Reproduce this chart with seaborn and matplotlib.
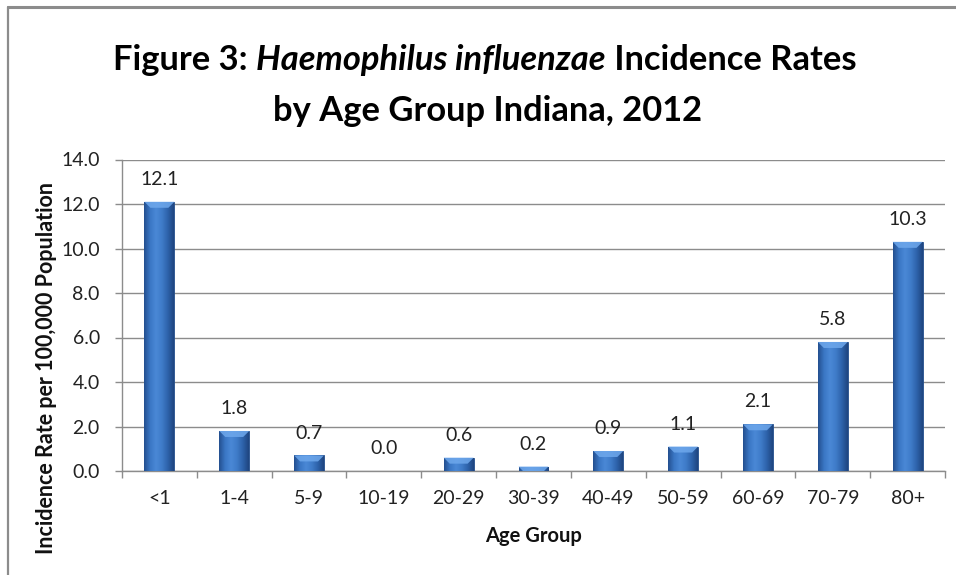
import numpy as np
import pandas as pd
import matplotlib
matplotlib.use("Agg")
import matplotlib.pyplot as plt
import seaborn as sns
from matplotlib.colors import LinearSegmentedColormap
from matplotlib.patches import Polygon
from matplotlib.lines import Line2D
from matplotlib.ticker import FormatStrFormatter, MultipleLocator, FixedLocator

age_groups = ["<1", "1-4", "5-9", "10-19", "20-29", "30-39", "40-49", "50-59", "60-69", "70-79", "80+"]
rates = [12.1, 1.8, 0.7, 0.0, 0.6, 0.2, 0.9, 1.1, 2.1, 5.8, 10.3]

title_line1 = [("Figure 3: ", "normal"), ("Haemophilus influenzae", "italic"), (" Incidence Rates", "normal")]
title_line2 = [("by Age Group Indiana, 2012", "normal")]
y_label = "Incidence Rate per 100,000 Population"
x_label = "Age Group"

FONT = "Lato"
TITLE_FONT = ["Lato", "DejaVu Sans"]
sns.set_theme(style="white")
plt.rcParams["font.family"] = [FONT, "DejaVu Sans"]

W, H = 956, 575
fig = plt.figure(figsize=(W / 100, H / 100), dpi=100)
fig.patch.set_facecolor("white")
ax = fig.add_axes([122 / W, 1 - 471 / H, (945 - 122) / W, (471 - 159.5) / H])

df = pd.DataFrame({"age": age_groups, "rate": rates})
sns.barplot(data=df, x="age", y="rate", color="#3b73c0", saturation=1, width=0.4,
            ax=ax, zorder=3, edgecolor="#234c88", linewidth=0.6)

ax.set_xlim(-0.5, len(age_groups) - 0.5)
ax.set_ylim(0, 14)
ax.yaxis.set_major_locator(MultipleLocator(2))
ax.yaxis.set_major_formatter(FormatStrFormatter("%.1f"))
ax.grid(axis="y", color="#8c8c8c", linewidth=1.0, zorder=0)
ax.set_axisbelow(True)

for s in ["top", "right"]:
    ax.spines[s].set_visible(False)
for s in ["left", "bottom"]:
    ax.spines[s].set_color("#8c8c8c")
    ax.spines[s].set_linewidth(1.0)

ax.tick_params(axis="y", which="major", left=True, length=5, width=1, color="#8c8c8c",
               pad=11, labelsize=14, labelcolor="#222222")
ax.tick_params(axis="x", which="major", bottom=True, length=0, pad=14, labelsize=14, labelcolor="#222222")
ax.xaxis.set_minor_locator(FixedLocator(np.arange(-0.5, len(age_groups), 1.0)))
ax.tick_params(axis="x", which="minor", bottom=True, length=5, width=1, color="#8c8c8c")

ax.set_xlabel(x_label, fontsize=14.5, fontweight="bold", color="#111111", labelpad=13)
ax.set_ylabel("")
fig.text(47 / W, 1 - 368 / H, y_label, rotation=90, ha="center", va="center",
         fontsize=15.5, fontweight="bold", color="#111111")

# gradient shading on bars
cmap = LinearSegmentedColormap.from_list("bar", ["#234f8f", "#3a76c4", "#4a88d6", "#3f7cc9", "#2d62aa", "#1f4580"])
grad = np.linspace(0, 1, 128).reshape(1, -1)
fig.canvas.draw()
inv = ax.transData.inverted()
for p in ax.patches:
    x0, y0, w, h = p.get_x(), p.get_y(), p.get_width(), p.get_height()
    if h <= 0:
        continue
    im = ax.imshow(grad, cmap=cmap, extent=[x0, x0 + w, y0, y0 + h], aspect="auto",
                   zorder=3.5, interpolation="bilinear")
    im.set_clip_path(p)
    (dx0, dy_top) = ax.transData.transform((x0, y0 + h))
    (dx1, dy_bot) = ax.transData.transform((x0 + w, y0))
    bev = min(6.0, (dy_top - dy_bot))
    pts_disp = [(dx0, dy_top), (dx1, dy_top), (dx1 - bev, dy_top - bev), (dx0 + bev, dy_top - bev)]
    pts = inv.transform(pts_disp)
    ax.add_patch(Polygon(pts, closed=True, facecolor="#6ea8ec", edgecolor="none", alpha=0.85, zorder=3.7))

ax.set_xlim(-0.5, len(age_groups) - 0.5)
ax.set_ylim(0, 14)

ax.bar_label(ax.containers[0], labels=[f"{v:.1f}" for v in rates], padding=10,
             fontsize=14, color="#222222")

# title with mixed styles, scaled to the reference width
renderer = fig.canvas.get_renderer()
def make_parts(parts, y_px, size):
    return [fig.text(0, 1 - y_px / H, s, fontsize=size, fontweight="bold", style=st,
                     family=TITLE_FONT, ha="left", va="baseline", color="#000000") for s, st in parts]

def place(texts, cx_px):
    widths = [t.get_window_extent(renderer).width for t in texts]
    x = cx_px - sum(widths) / 2
    for t, wd in zip(texts, widths):
        t.set_x(x / W)
        x += wd
    return sum(widths)

probe = make_parts(title_line1, 80, 20)
wprobe = place(probe, 485)
for t in probe:
    t.remove()
tsize = 20 * 744 / wprobe

l1 = make_parts(title_line1, 70, tsize)
place(l1, 485)
l2 = make_parts(title_line2, 121, tsize)
place(l2, 488)

fig.add_artist(Line2D([8 / W, 1.0], [1 - 6.5 / H, 1 - 6.5 / H], color="#8c8c8c", linewidth=2.2, transform=fig.transFigure))
fig.add_artist(Line2D([8 / W, 8 / W], [1 - 6.5 / H, 0.0], color="#8c8c8c", linewidth=1.6, transform=fig.transFigure))

fig.savefig("out.png", dpi=100)
